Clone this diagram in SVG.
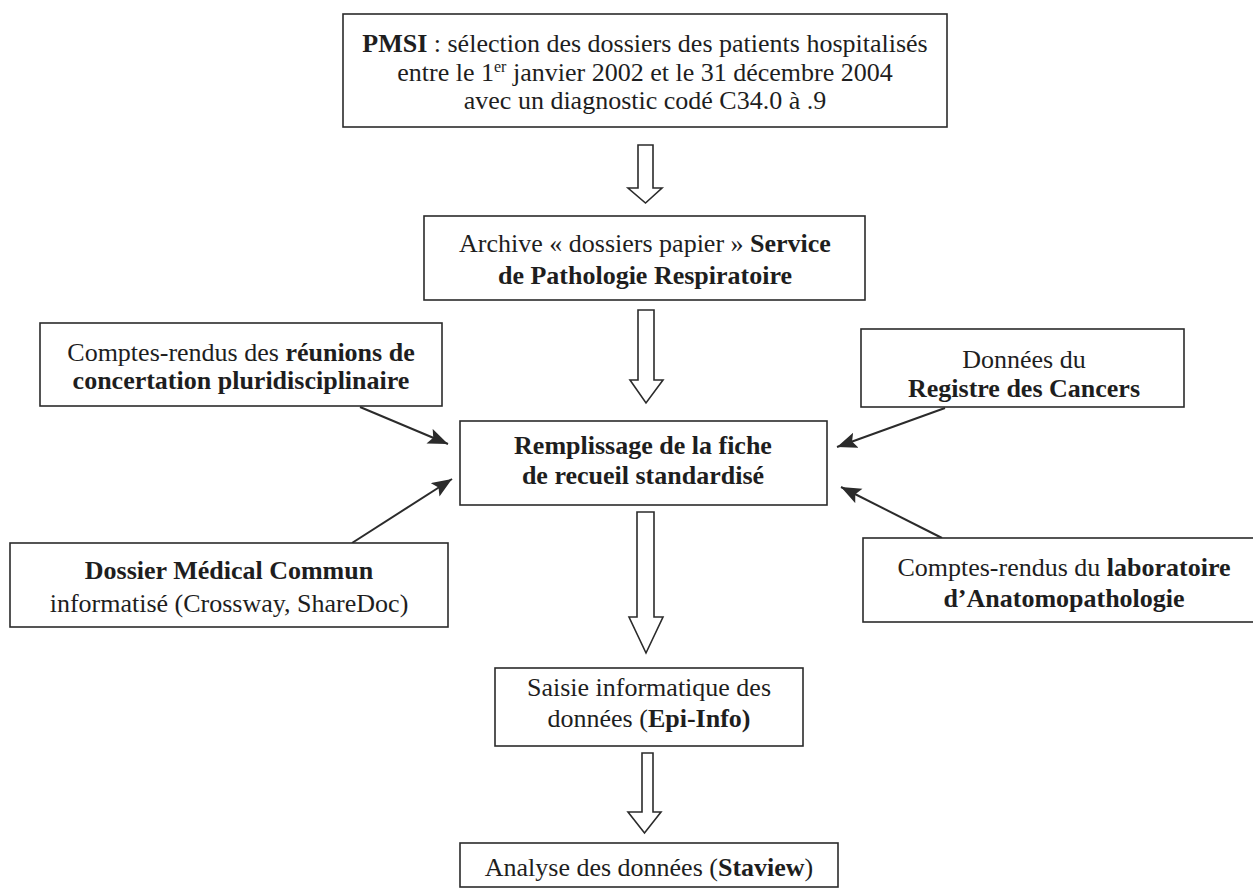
<svg xmlns="http://www.w3.org/2000/svg" width="1253" height="888" viewBox="0 0 1253 888">
<style>
  .box { fill: #ffffff; stroke: #2b2b2b; stroke-width: 1.6; }
  .t { font-family: "Liberation Serif", "Times New Roman", serif; font-size: 26px; fill: #1e1e1e; text-anchor: middle; }
  .b { font-weight: bold; }
  .blk { fill: #ffffff; stroke: #2b2b2b; stroke-width: 1.6; stroke-linejoin: miter; }
  .ln { stroke: #2b2b2b; stroke-width: 2; fill: none; marker-end: url(#ah); }
</style>
<defs>
  <marker id="ah" markerUnits="userSpaceOnUse" markerWidth="22" markerHeight="18" refX="20" refY="8" orient="auto">
    <path d="M0,0 L20,8 L0,16 L4,8 Z" fill="#2b2b2b"/>
  </marker>
</defs>
<rect width="1253" height="888" fill="#ffffff"/>

<g id="connectors">
  <polygon class="blk" points="638,145 653,145 653,188 662,188 645.5,203 628,188 638,188"/>
  <polygon class="blk" points="638,310 654,310 654,380 663,380 646,403 630,380 638,380"/>
  <polygon class="blk" points="637,512 654,512 654,617 663,617 646,653 629,617 637,617"/>
  <polygon class="blk" points="642,753 653,753 653,812 661,812 644.5,833 628,812 642,812"/>
  <line class="ln" x1="360" y1="407" x2="448" y2="444"/>
  <line class="ln" x1="352" y1="543" x2="452" y2="479"/>
  <line class="ln" x1="945" y1="408" x2="837" y2="447"/>
  <line class="ln" x1="942" y1="538" x2="841" y2="487"/>
</g>

<g id="pmsi">
  <rect class="box" x="343" y="14" width="604" height="113"/>
  <text class="t" x="645" y="52"><tspan class="b">PMSI</tspan> : sélection des dossiers des patients hospitalisés</text>
  <text class="t" x="645" y="81">entre le 1<tspan font-size="16" dy="-9">er</tspan><tspan dy="9"> janvier 2002 et le 31 décembre 2004</tspan></text>
  <text class="t" x="645" y="109">avec un diagnostic codé C34.0 à .9</text>
</g>

<g id="archive">
  <rect class="box" x="424" y="216" width="441" height="84"/>
  <text class="t" x="645" y="252">Archive « dossiers papier » <tspan class="b">Service</tspan></text>
  <text class="t b" x="645" y="284">de Pathologie Respiratoire</text>
</g>

<g id="rcp">
  <rect class="box" x="40" y="323" width="402" height="83"/>
  <text class="t" x="241" y="361">Comptes-rendus des <tspan class="b">réunions de</tspan></text>
  <text class="t b" x="241" y="389">concertation pluridisciplinaire</text>
</g>

<g id="registre">
  <rect class="box" x="861" y="329" width="323" height="78"/>
  <text class="t" x="1024" y="368">Données du</text>
  <text class="t b" x="1024" y="397">Registre des Cancers</text>
</g>

<g id="fiche">
  <rect class="box" x="460" y="421" width="367" height="84"/>
  <text class="t b" x="643" y="454">Remplissage de la fiche</text>
  <text class="t b" x="643" y="484">de recueil standardisé</text>
</g>

<g id="dmc">
  <rect class="box" x="10" y="543" width="438" height="84"/>
  <text class="t b" x="229" y="579">Dossier Médical Commun</text>
  <text class="t" x="229" y="612">informatisé (Crossway, ShareDoc)</text>
</g>

<g id="anapath">
  <rect class="box" x="863" y="538" width="400" height="84"/>
  <text class="t" x="1064" y="576">Comptes-rendus du <tspan class="b">laboratoire</tspan></text>
  <text class="t b" x="1064" y="607">d’Anatomopathologie</text>
</g>

<g id="saisie">
  <rect class="box" x="495" y="668" width="308" height="78"/>
  <text class="t" x="649" y="696">Saisie informatique des</text>
  <text class="t" x="649" y="727">données (<tspan class="b">Epi-Info)</tspan></text>
</g>

<g id="analyse">
  <rect class="box" x="460" y="843" width="378" height="44"/>
  <text class="t" x="649" y="876">Analyse des données (<tspan class="b">Staview</tspan>)</text>
</g>
</svg>
